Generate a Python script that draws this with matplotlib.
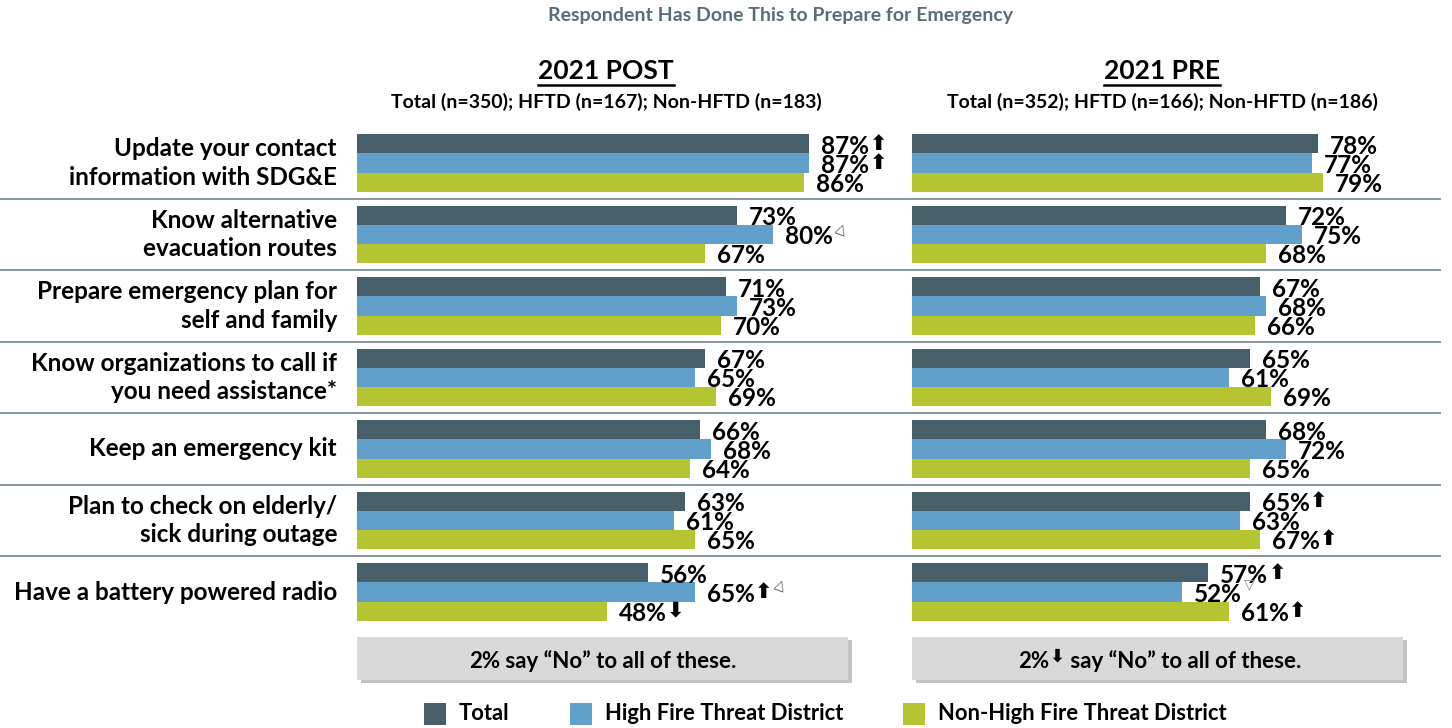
import matplotlib
matplotlib.use("Agg")
import matplotlib.pyplot as plt
from matplotlib.patches import Rectangle
from matplotlib.lines import Line2D

W, H = 1452, 728
FONT = ["Lato", "DejaVu Sans"]
plt.rcParams['font.family'] = FONT
plt.rcParams['font.weight'] = 'bold'

categories = ["Update your contact\ninformation with SDG&E",
              "Know alternative\nevacuation routes",
              "Prepare emergency plan for\nself and family",
              "Know organizations to call if\nyou need assistance*",
              "Keep an emergency kit",
              "Plan to check on elderly/\nsick during outage",
              "Have a battery powered radio"]
series_names = ["Total", "High Fire Threat District", "Non-High Fire Threat District"]
colors = ["#475f69", "#62a0cc", "#b4c531"]

post_total = [87, 73, 71, 67, 66, 63, 56]
post_hftd = [87, 80, 73, 65, 68, 61, 65]
post_non = [86, 67, 70, 69, 64, 65, 48]
pre_total = [78, 72, 67, 65, 68, 65, 57]
pre_hftd = [77, 75, 68, 61, 72, 63, 52]
pre_non = [79, 68, 66, 69, 65, 67, 61]

# significance marks: (series index, category index) -> marks
post_marks = {(0, 0): "up", (1, 0): "up", (1, 1): "open_up", (1, 6): "up+open_up", (2, 6): "down"}
pre_marks = {(0, 5): "up", (2, 5): "up", (0, 6): "up", (1, 6): "open_down", (2, 6): "up"}

panel_titles = ["2021 POST", "2021 PRE"]
panel_subs = ["Total (n=350); HFTD (n=167); Non-HFTD (n=183)",
              "Total (n=352); HFTD (n=166); Non-HFTD (n=186)"]
box_pre = ["2%", "2%"]
box_marks = [None, "down"]
box_post = [" say \u201cNo\u201d to all of these.", " say \u201cNo\u201d to all of these."]
chart_title = "Respondent Has Done This to Prepare for Emergency"

fig = plt.figure(figsize=(W / 100, H / 100), dpi=100)

def fx(x):
    return x / W

def fy(y):
    return 1 - y / H

ax_top, ax_bot = 127.25, 627.75
panel_left = [357, 912]
panel_w = 520
axes = []
for pl in panel_left:
    ax = fig.add_axes([fx(pl), fy(ax_bot), fx(panel_w), (ax_bot - ax_top) / H])
    ax.set_xlim(0, 100)
    ax.set_ylim(len(categories) - 0.5, -0.5)
    ax.axis("off")
    axes.append(ax)

bh = 0.266
offsets = [-bh, 0, bh]
data = [[post_total, post_hftd, post_non], [pre_total, pre_hftd, pre_non]]
marks_all = [post_marks, pre_marks]

ARROW = {"up": "\u2b06", "down": "\u2b07"}

def add_arrow(ax, prev, kind, size=15):
    return ax.annotate(ARROW[kind], xy=(1, 0.6), xycoords=prev, xytext=(0, 0),
                       textcoords="offset points", ha="left", va="center",
                       fontsize=size, family="DejaVu Sans", color="black")

for p, ax in enumerate(axes):
    for s in range(3):
        vals = data[p][s]
        ys = [i + offsets[s] for i in range(len(categories))]
        ax.barh(ys, vals, height=bh, color=colors[s], edgecolor="none")
        for i, v in enumerate(vals):
            t = ax.text(v + 2.3, ys[i] + 0.03, f"{v}%", fontsize=17.5, fontweight="bold",
                        va="center", ha="left", color="black")
            m = marks_all[p].get((s, i))
            if m:
                prev = t
                for part in m.split("+"):
                    if part in ("up", "down"):
                        prev = add_arrow(ax, prev, part)
                    elif part == "open_up":
                        prev = ax.annotate("\u25b3", xy=(1, 0.8), xycoords=prev, xytext=(0.5, 0),
                                           textcoords="offset points", ha="left", va="center",
                                           fontsize=10, family="DejaVu Sans", color="#555555",
                                           rotation=-20)
                    elif part == "open_down":
                        prev = ax.annotate("\u25bd", xy=(1, 1.0), xycoords=prev, xytext=(1, -1),
                                           textcoords="offset points", ha="left", va="center",
                                           fontsize=10, family="DejaVu Sans", color="#888888")

# category labels
for i, c in enumerate(categories):
    ypix = ax_top + (i + 0.5) * (ax_bot - ax_top) / len(categories)
    fig.text(fx(337), fy(ypix), c, ha="right", va="center", fontsize=17.5,
             fontweight="bold", linespacing=1.3)

# separators
for k in range(len(categories) - 1):
    ypix = ax_top + (k + 1) * (ax_bot - ax_top) / len(categories)
    fig.add_artist(Line2D([fx(0), fx(1440)], [fy(ypix), fy(ypix)], color="#7b8d9a",
                          linewidth=1.3, transform=fig.transFigure))

# title
fig.text(fx(780), fy(16), chart_title, ha="center", va="center", fontsize=14,
         fontweight="bold", color="#5a6e78")

# panel headers
centers = [606, 1162]
head_texts = []
for p in range(2):
    ht = fig.text(fx(centers[p]), fy(71), panel_titles[p], ha="center", va="center",
                  fontsize=19, fontweight="bold")
    head_texts.append(ht)
    fig.text(fx(centers[p]), fy(102), panel_subs[p], ha="center", va="center",
             fontsize=14, fontweight="bold")

# grey boxes with shadow
box_x = [357, 912]
box_texts = []
for p in range(2):
    x0, x1, y0, y1 = box_x[p], box_x[p] + 491, 637, 680
    fig.add_artist(Rectangle((fx(x0 + 4), fy(y1 + 3)), fx(x1 - x0), (y1 - y0) / H,
                             facecolor="#9a9a9a", edgecolor="none", alpha=0.6,
                             transform=fig.transFigure))
    fig.add_artist(Rectangle((fx(x0), fy(y1)), fx(x1 - x0), (y1 - y0) / H,
                             facecolor="#d9d9d9", edgecolor="none", transform=fig.transFigure))
    full = box_pre[p] + ("\u2002" if box_marks[p] else "") + box_post[p]
    bt = fig.text(fx((x0 + x1) / 2), fy(659), full, ha="center", va="center",
                  fontsize=16, fontweight="bold", alpha=0)
    box_texts.append((bt, p))

# legend
leg_sq = [424, 570, 903]
for s in range(3):
    fig.add_artist(Rectangle((fx(leg_sq[s]), fy(725)), fx(22), 22 / H,
                             facecolor=colors[s], edgecolor="none", transform=fig.transFigure))
    fig.text(fx(leg_sq[s] + 35), fy(714), series_names[s], ha="left", va="center",
             fontsize=15.8, fontweight="bold")

fig.canvas.draw()
r = fig.canvas.get_renderer()
for ht in head_texts:
    bb = ht.get_window_extent(r)
    fig.add_artist(Line2D([bb.x0 / W, bb.x1 / W], [fy(85), fy(85)], color="black",
                          linewidth=1.8, transform=fig.transFigure))

# draw box texts as pieces so arrow can sit inside
for bt, p in box_texts:
    bb = bt.get_window_extent(r)
    t1 = fig.text(bb.x0 / W, fy(661), box_pre[p], ha="left", va="center",
                  fontsize=16, fontweight="bold")
    if box_marks[p]:
        fig.add_artist(plt.Annotation(ARROW[box_marks[p]], xy=(1, 0.7), xycoords=t1,
                                      xytext=(0, 0), textcoords="offset points",
                                      ha="left", va="center", fontsize=13,
                                      family="DejaVu Sans", color="black"))
    fig.add_artist(plt.Annotation(box_post[p], xy=(1, 0), xycoords=t1,
                                  xytext=(0 if not box_marks[p] else 11, 0),
                                  textcoords="offset points",
                                  ha="left", va="bottom", fontsize=16, fontweight="bold",
                                  family=FONT, color="black"))

fig.savefig("out.png", dpi=100)
